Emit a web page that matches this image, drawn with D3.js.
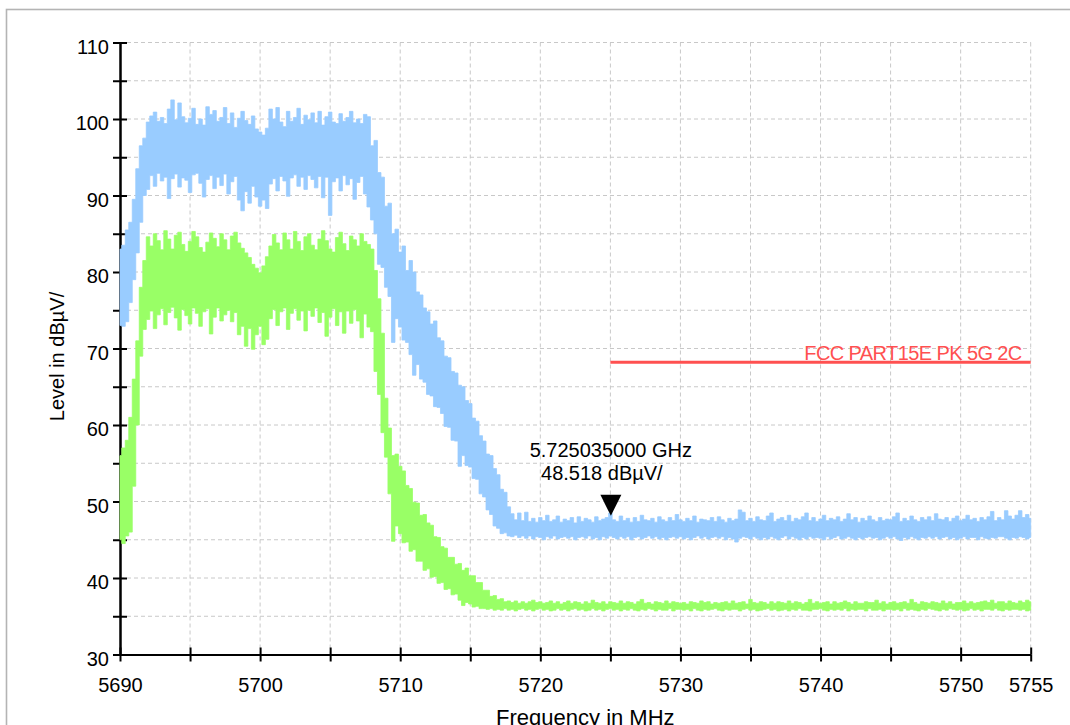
<!DOCTYPE html>
<html>
<head>
<meta charset="utf-8">
<script src="https://cdn.jsdelivr.net/npm/d3@7"></script>
<style>
  html, body { margin: 0; padding: 0; background: #fff; }
  svg { display: block; font-family: "Liberation Sans", Arial, sans-serif; }
</style>
</head>
<body>
<svg id="chart" width="1070" height="725"></svg>
<script>
// Sweep: 5690 MHz to 5755 MHz, one reading every 0.25 MHz.
const sweepStart = 5690;
const sweepStep = 0.25;

// Peak-hold trace (blue): upper and lower envelope of the sweep, dBµV
const blueHigh = [
  83, 83.5, 85.5, 86.5,        // 5690
  89.5, 93.5, 96.5, 97.5,      // 5691
  99.6, 100.4, 100.9, 99.7,    // 5692
  100.2, 99.4, 101.3, 102.5,   // 5693
  99.9, 102.1, 100.3, 99.5,    // 5694
  100.1, 101.4, 99.3, 100.0,   // 5695
  99.2, 101.6, 100.6, 101.1,   // 5696
  99.7, 100.2, 101.5, 99.4,    // 5697
  100.8, 98.9, 100.1, 101.0,   // 5698
  99.8, 99.3, 100.4, 98.7,     // 5699
  98.3, 97.9, 98.8, 101.3,     // 5700
  100.0, 101.5, 99.6, 99.0,    // 5701
  101.0, 99.7, 100.2, 101.4,   // 5702
  99.3, 100.5, 99.9, 100.8,    // 5703
  99.5, 101.0, 99.2, 100.3,    // 5704
  100.9, 99.6, 99.4, 100.7,    // 5705
  99.7, 100.2, 101.0, 99.5,    // 5706
  100.0, 99.4, 100.6, 100.3,   // 5707
  96.5, 97.2, 93.0, 92.4,      // 5708
  88.6, 89.0, 85.0, 85.6,      // 5709
  82.6, 83.4, 80.2, 81.5,      // 5710
  80.0, 77.4, 77.0, 75.3,      // 5711
  74.8, 73.2, 73.6, 71.4,      // 5712
  71.0, 69.0, 68.8, 67.0,      // 5713
  66.8, 65.2, 65.0, 63.2,      // 5714
  62.8, 60.9, 60.5, 58.6,      // 5715
  57.9, 56.2, 56.0, 54.3,      // 5716
  53.5, 51.6, 51.2, 49.3,      // 5717
  48.4, 47.6, 48.5, 47.5,      // 5718
  48.6, 47.4, 47.8, 47.3,      // 5719
  47.9, 47.5, 48.2, 47.4,      // 5720
  47.6, 48.1, 47.3, 47.7,      // 5721
  47.5, 47.9, 47.2, 48.0,      // 5722
  47.4, 47.8, 47.6, 47.3,      // 5723
  48.0, 47.5, 47.7, 47.9,      // 5724
  48.5, 47.6, 47.4, 48.1,      // 5725
  47.5, 47.8, 47.3, 47.9,      // 5726
  47.4, 48.2, 47.6, 47.5,      // 5727
  47.8, 47.3, 48.0, 47.6,      // 5728
  47.4, 47.9, 47.5, 48.3,      // 5729
  47.6, 47.4, 47.8, 47.5,      // 5730
  48.1, 47.3, 47.7, 47.6,      // 5731
  47.5, 47.9, 47.4, 48.0,      // 5732
  47.6, 47.3, 47.8, 47.5,      // 5733
  47.7, 48.9, 48.6, 47.5,      // 5734
  47.8, 47.4, 48.0, 47.6,      // 5735
  47.5, 48.1, 48.5, 47.4,      // 5736
  47.7, 47.9, 47.5, 48.2,      // 5737
  47.4, 47.8, 47.6, 48.0,      // 5738
  48.5, 47.5, 47.9, 47.4,      // 5739
  47.7, 48.2, 47.5, 47.8,      // 5740
  47.6, 48.0, 47.4, 47.7,      // 5741
  48.4, 47.6, 47.9, 47.3,      // 5742
  47.8, 47.5, 48.1, 47.6,      // 5743
  47.4, 47.9, 47.5, 47.7,      // 5744
  47.6, 48.0, 48.5, 47.4,      // 5745
  47.8, 47.5, 48.1, 47.6,      // 5746
  47.4, 47.9, 47.6, 48.0,      // 5747
  47.5, 48.4, 47.7, 47.6,      // 5748
  47.9, 47.4, 47.8, 48.1,      // 5749
  47.5, 47.7, 48.2, 47.6,      // 5750
  47.8, 47.4, 47.9, 47.6,      // 5751
  48.0, 48.7, 47.5, 47.9,      // 5752
  47.6, 48.8, 48.1, 47.7,      // 5753
  48.2, 48.8, 47.9, 48.3,      // 5754
  47.8                         // 5755
];
const blueLow = [
  73, 72.9, 73.5, 76,          // 5690
  79, 82.5, 86.5, 90,          // 5691
  90.8, 92.6, 91.2, 92.9,      // 5692
  91.9, 92.4, 89.6, 92.2,      // 5693
  92.8, 91.1, 92.3, 92.0,      // 5694
  90.4, 92.7, 92.9, 91.6,      // 5695
  89.8, 92.1, 92.6, 90.9,      // 5696
  92.4, 91.3, 92.8, 90.2,      // 5697
  91.8, 92.5, 89.4, 88.0,      // 5698
  90.5, 89.0, 91.2, 89.8,      // 5699
  88.6, 89.4, 88.3, 91.5,      // 5700
  92.2, 90.6, 92.5, 91.9,      // 5701
  89.9, 92.3, 92.7, 91.2,      // 5702
  92.4, 90.8, 92.6, 92.1,      // 5703
  91.0, 92.5, 89.7, 92.4,      // 5704
  87.4, 91.8, 92.3, 90.6,      // 5705
  92.6, 91.4, 92.2, 89.5,      // 5706
  91.7, 92.5, 90.2, 88.5,      // 5707
  86.8, 85.0, 81.0, 80.6,      // 5708
  78.0, 76.8, 70.8, 73.9,      // 5709
  72.8, 71.1, 70.8, 69.2,      // 5710
  66.5, 67.9, 66.0, 65.6,      // 5711
  64.0, 63.8, 62.4, 62.3,      // 5712
  61.5, 59.8, 59.7, 58.0,      // 5713
  57.9, 54.6, 56.0, 54.7,      // 5714
  54.5, 53.0, 52.9, 51.0,      // 5715
  50.6, 48.9, 48.3, 46.8,      // 5716
  46.5, 45.8, 45.9, 45.5,      // 5717
  45.4, 45.6, 45.3, 45.5,      // 5718
  45.2, 45.5, 45.1, 45.4,      // 5719
  45.3, 45.0, 45.4, 45.2,      // 5720
  45.5, 45.1, 45.3, 45.4,      // 5721
  45.2, 45.4, 45.0, 45.3,      // 5722
  45.4, 45.2, 45.5, 45.1,      // 5723
  45.3, 45.0, 45.4, 45.2,      // 5724
  45.5, 45.3, 45.1, 45.4,      // 5725
  45.2, 45.4, 45.0, 45.3,      // 5726
  45.4, 45.1, 45.3, 45.5,      // 5727
  45.2, 45.4, 45.1, 45.3,      // 5728
  45.0, 45.3, 45.4, 45.2,      // 5729
  45.4, 45.1, 45.3, 45.0,      // 5730
  45.3, 45.5, 45.2, 45.4,      // 5731
  45.1, 45.3, 45.4, 45.2,      // 5732
  45.4, 45.0, 45.3, 45.1,      // 5733
  44.7, 45.2, 45.4, 45.3,      // 5734
  45.1, 45.4, 45.2, 45.0,      // 5735
  45.3, 45.1, 45.4, 45.2,      // 5736
  45.0, 45.3, 45.5, 45.1,      // 5737
  45.4, 45.2, 45.0, 45.3,      // 5738
  45.1, 45.4, 45.2, 45.3,      // 5739
  45.2, 45.0, 45.4, 45.1,      // 5740
  45.3, 45.5, 45.1, 45.2,      // 5741
  45.4, 45.2, 45.0, 45.3,      // 5742
  45.1, 45.3, 45.4, 45.2,      // 5743
  45.3, 45.0, 45.2, 45.4,      // 5744
  45.2, 45.4, 45.1, 44.9,      // 5745
  45.3, 45.1, 45.4, 45.2,      // 5746
  45.0, 45.3, 45.2, 45.4,      // 5747
  45.2, 45.4, 45.1, 45.3,      // 5748
  45.4, 45.1, 45.3, 45.0,      // 5749
  45.2, 45.4, 45.1, 45.3,      // 5750
  45.3, 45.0, 45.4, 45.2,      // 5751
  45.1, 45.3, 45.2, 45.4,      // 5752
  45.4, 45.2, 45.0, 45.3,      // 5753
  45.2, 45.4, 45.3, 45.1,      // 5754
  45.3                         // 5755
];

// Average trace (green): upper and lower envelope of the sweep, dBµV
const greenHigh = [
  56, 57, 58, 61,              // 5690
  66, 71, 78, 81.5,            // 5691
  84.6, 83.4, 85.0, 84.1,      // 5692
  82.9, 85.4, 84.3, 83.0,      // 5693
  84.8, 85.2, 83.6, 82.7,      // 5694
  84.0, 85.3, 84.6, 83.2,      // 5695
  82.6, 83.9, 85.1, 84.4,      // 5696
  83.3, 85.0, 84.2, 82.9,      // 5697
  84.7, 85.2, 83.8, 83.1,      // 5698
  82.5, 81.9, 81.0, 80.5,      // 5699
  79.9, 80.8, 82.0, 83.4,      // 5700
  84.9, 83.8, 82.9, 85.1,      // 5701
  84.2, 83.0, 85.3, 84.0,      // 5702
  82.8, 84.6, 85.0, 83.5,      // 5703
  82.9, 84.3, 85.4, 84.1,      // 5704
  83.0, 82.6, 84.5, 85.2,      // 5705
  83.7, 82.8, 84.7, 84.2,      // 5706
  83.4, 85.0, 84.0, 83.6,      // 5707
  83.0, 80.2, 76.5, 72.0,      // 5708
  63.5, 59.6, 56.0, 56.2,      // 5709
  54.6, 54.0, 52.1, 51.7,      // 5710
  49.9, 49.8, 48.2, 48.3,      // 5711
  47.2, 46.9, 45.4, 45.3,      // 5712
  44.1, 43.9, 42.7, 42.7,      // 5713
  41.8, 41.9, 41.0, 41.3,      // 5714
  40.3, 40.3, 39.4, 39.4,      // 5715
  38.4, 38.4, 37.6, 37.7,      // 5716
  37.2, 37.3, 36.9, 37.0,      // 5717
  36.8, 37.0, 36.7, 36.9,      // 5718
  36.7, 36.9, 37.1, 36.8,      // 5719
  36.9, 36.7, 36.8, 37.0,      // 5720
  36.7, 36.9, 36.6, 36.8,      // 5721
  37.0, 36.7, 36.9, 36.8,      // 5722
  36.6, 36.9, 36.7, 37.1,      // 5723
  36.8, 36.7, 36.9, 36.6,      // 5724
  36.9, 36.8, 36.7, 37.0,      // 5725
  36.7, 36.9, 36.8, 36.6,      // 5726
  36.9, 37.2, 36.7, 36.8,      // 5727
  36.6, 36.9, 36.8, 36.7,      // 5728
  37.0, 36.7, 36.9, 36.8,      // 5729
  36.7, 36.8, 36.6, 36.9,      // 5730
  36.8, 36.7, 37.0, 36.8,      // 5731
  36.9, 36.6, 36.8, 36.7,      // 5732
  36.8, 36.9, 36.7, 37.0,      // 5733
  36.7, 36.8, 36.9, 36.6,      // 5734
  37.2, 36.8, 36.7, 36.9,      // 5735
  36.8, 36.6, 36.9, 36.7,      // 5736
  36.9, 36.8, 36.7, 37.0,      // 5737
  36.7, 36.9, 36.8, 36.6,      // 5738
  36.8, 37.2, 36.7, 36.9,      // 5739
  36.7, 36.8, 36.9, 36.6,      // 5740
  36.9, 36.7, 36.8, 37.0,      // 5741
  36.8, 36.6, 36.9, 36.7,      // 5742
  36.7, 36.9, 36.8, 36.8,      // 5743
  37.1, 36.7, 36.9, 36.6,      // 5744
  36.8, 36.9, 36.7, 36.8,      // 5745
  36.9, 36.7, 37.2, 36.8,      // 5746
  36.6, 36.9, 36.8, 36.7,      // 5747
  36.9, 36.8, 36.7, 37.0,      // 5748
  36.7, 36.9, 36.6, 36.8,      // 5749
  36.8, 37.0, 36.7, 36.9,      // 5750
  36.7, 36.8, 36.9, 37.0,      // 5751
  36.8, 37.1, 36.7, 36.9,      // 5752
  36.9, 36.7, 37.0, 36.8,      // 5753
  36.7, 37.0, 36.8, 37.1,      // 5754
  36.9                         // 5755
];
const greenLow = [
  45, 44.5, 45.5, 46,          // 5690
  52, 60, 69, 72.5,            // 5691
  73.8, 74.9, 72.6, 74.4,      // 5692
  75.2, 73.1, 74.7, 75.4,      // 5693
  74.0, 72.4, 75.1, 74.3,      // 5694
  73.2, 75.3, 74.6, 72.9,      // 5695
  74.8, 75.2, 71.9, 74.1,      // 5696
  75.3, 73.6, 74.4, 75.0,      // 5697
  73.5, 74.7, 71.8, 72.9,      // 5698
  70.3, 72.6, 69.9, 71.8,      // 5699
  72.9, 70.5, 71.2, 73.9,      // 5700
  75.1, 73.0, 74.8, 75.3,      // 5701
  72.5, 74.6, 75.2, 73.7,      // 5702
  74.9, 72.3, 75.0, 74.2,      // 5703
  75.3, 73.4, 74.7, 71.6,      // 5704
  74.1, 75.2, 73.0, 74.8,      // 5705
  72.0, 74.9, 73.3, 75.1,      // 5706
  73.6, 71.4, 74.5, 72.8,      // 5707
  72.2, 67.0, 64.0, 59.0,      // 5708
  55.8, 51.0, 44.8, 46.8,      // 5709
  45.8, 44.6, 44.7, 43.5,      // 5710
  43.7, 42.2, 42.2, 41.0,      // 5711
  41.2, 40.1, 40.2, 39.3,      // 5712
  39.4, 38.5, 38.6, 37.8,      // 5713
  37.9, 37.1, 36.4, 36.8,      // 5714
  36.6, 36.2, 36.3, 36.0,      // 5715
  36.0, 35.9, 36.0, 35.8,      // 5716
  35.9, 35.8, 36.0, 35.8,      // 5717
  35.9, 35.7, 35.9, 36.0,      // 5718
  35.8, 35.9, 35.7, 35.9,      // 5719
  36.0, 35.8, 35.9, 35.7,      // 5720
  35.8, 36.0, 35.8, 35.9,      // 5721
  35.7, 35.9, 36.0, 35.8,      // 5722
  35.9, 35.7, 35.8, 36.0,      // 5723
  35.8, 35.9, 35.7, 35.9,      // 5724
  36.0, 35.8, 35.9, 35.7,      // 5725
  35.9, 35.8, 36.0, 35.8,      // 5726
  35.7, 35.9, 35.8, 36.0,      // 5727
  35.9, 35.7, 35.9, 35.8,      // 5728
  35.8, 36.0, 35.7, 35.9,      // 5729
  35.9, 35.8, 35.9, 35.7,      // 5730
  36.0, 35.8, 35.7, 35.9,      // 5731
  35.8, 35.9, 36.0, 35.8,      // 5732
  35.7, 35.9, 35.8, 35.9,      // 5733
  35.9, 35.7, 35.9, 36.0,      // 5734
  35.8, 35.9, 35.7, 35.8,      // 5735
  35.9, 36.0, 35.8, 35.9,      // 5736
  35.7, 35.8, 35.9, 35.7,      // 5737
  35.9, 35.8, 36.0, 35.8,      // 5738
  35.8, 35.7, 35.9, 35.9,      // 5739
  36.0, 35.8, 35.7, 35.9,      // 5740
  35.8, 35.9, 35.8, 36.0,      // 5741
  35.7, 35.9, 35.8, 35.9,      // 5742
  35.9, 35.7, 36.0, 35.8,      // 5743
  35.8, 35.9, 35.7, 35.9,      // 5744
  35.9, 35.8, 35.9, 35.7,      // 5745
  36.0, 35.8, 35.9, 35.8,      // 5746
  35.7, 35.9, 35.8, 36.0,      // 5747
  35.9, 35.8, 35.7, 35.9,      // 5748
  35.8, 36.0, 35.9, 35.8,      // 5749
  35.9, 35.7, 35.8, 36.0,      // 5750
  35.8, 35.9, 35.7, 35.9,      // 5751
  35.9, 35.8, 36.0, 35.8,      // 5752
  35.7, 35.9, 35.8, 35.9,      // 5753
  35.9, 35.8, 35.9, 35.7,      // 5754
  35.8                         // 5755
];

// Axis ticks and labels
const xTicks = [5690, 5695, 5700, 5705, 5710, 5715, 5720, 5725, 5730, 5735, 5740, 5745, 5750, 5755];
const xLabels = [5690, 5700, 5710, 5720, 5730, 5740, 5750, 5755];
const yTicks = [30, 35, 40, 45, 50, 55, 60, 65, 70, 75, 80, 85, 90, 95, 100, 105, 110];
const yLabels = [30, 40, 50, 60, 70, 80, 90, 100, 110];

// Limit line
const limitName = "FCC PART15E PK 5G 2C";
const limitFreq = [5725, 5755];
const limitLevel = [68.2, 68.2];

// Marker
const markerFreq = 5725.035;
const markerLevel = 48.518;

// ---------------------------------------------------------------
const svg = d3.select("#chart");
const FONT = 20;

const x = d3.scaleLinear().domain([5690, 5755]).range([120, 1030.7]);
const y = d3.scaleLinear().domain([30, 110]).range([654.5, 42.5]);

// outer panel border
svg.append("rect")
  .attr("x", 6.5).attr("y", 9.5)
  .attr("width", 1200).attr("height", 900)
  .attr("fill", "#fff")
  .attr("stroke", "#b4b4b4").attr("stroke-width", 1.6);

// dashed grid
const grid = svg.append("g")
  .attr("stroke", "#c8c8c8").attr("stroke-width", 1)
  .attr("stroke-dasharray", "4,3");
grid.selectAll("line.v").data(xTicks.filter(d => d !== 5690)).join("line")
  .attr("class", "v")
  .attr("x1", d => x(d)).attr("x2", d => x(d))
  .attr("y1", y(110)).attr("y2", y(30));
grid.selectAll("line.h").data(yTicks.filter(d => d !== 30)).join("line")
  .attr("class", "h")
  .attr("x1", x(5690)).attr("x2", x(5755))
  .attr("y1", d => y(d)).attr("y2", d => y(d));

// axes: ticks cross the axis line, labels only on the major values
function styleAxis(g) {
  g.select(".domain").attr("stroke", "#000").attr("stroke-width", 2);
  g.selectAll(".tick line").attr("stroke", "#000").attr("stroke-width", 2);
  g.selectAll("text").attr("fill", "#000").attr("font-size", FONT)
    .attr("font-family", '"Liberation Sans", Arial, sans-serif');
}
const yAxisL = d3.axisLeft(y).tickValues(yTicks).tickSizeInner(7).tickSizeOuter(0).tickPadding(4)
  .tickFormat(d => yLabels.includes(d) ? String(d) : "");
const yAxisR = d3.axisRight(y).tickValues(yTicks).tickSizeInner(7).tickSizeOuter(0)
  .tickFormat("");
const xAxisB = d3.axisBottom(x).tickValues(xTicks).tickSizeInner(7).tickSizeOuter(0).tickPadding(16)
  .tickFormat(d => xLabels.includes(d) ? String(d) : "");
const xAxisT = d3.axisTop(x).tickValues(xTicks).tickSizeInner(7).tickSizeOuter(0)
  .tickFormat("");

const gy = svg.append("g").attr("transform", `translate(${x(5690)},0)`).call(yAxisL).call(styleAxis);
gy.selectAll("text").attr("dy", "0.32em").attr("y", 4.5);
svg.append("g").attr("transform", `translate(${x(5690)},0)`).call(yAxisR).call(styleAxis);
svg.append("g").attr("transform", `translate(0,${y(30)})`).call(xAxisB).call(styleAxis);
svg.append("g").attr("transform", `translate(0,${y(30)})`).call(xAxisT).call(styleAxis);

// traces: each reading drawn as a vertical span between its envelope values
function band(high, low) {
  const n = Math.min(high.length, low.length);
  return d3.range(n).map(i => ({ f: sweepStart + i * sweepStep, hi: high[i], lo: low[i] }));
}
const area = d3.area()
  .curve(d3.curveStep)
  .x(d => x(d.f))
  .y0(d => y(d.lo))
  .y1(d => y(d.hi));

svg.append("path")
  .datum(band(blueHigh, blueLow))
  .attr("d", area)
  .attr("fill", "#99ccff").attr("stroke", "#99ccff").attr("stroke-width", 0.8);

svg.append("path")
  .datum(band(greenHigh, greenLow))
  .attr("d", area)
  .attr("fill", "#99ff66").attr("stroke", "#99ff66").attr("stroke-width", 0.8);

// limit line and its name
const limitLine = d3.line().x(d => x(d[0])).y(d => y(d[1]));
svg.append("path")
  .datum(limitFreq.map((f, i) => [f, limitLevel[i]]))
  .attr("d", limitLine)
  .attr("fill", "none").attr("stroke", "#ff5050").attr("stroke-width", 3);
svg.append("text")
  .attr("x", x(limitFreq[1]) - 9)
  .attr("y", y(limitLevel[1]) - 2)
  .attr("text-anchor", "end")
  .attr("font-size", FONT)
  .attr("letter-spacing", -0.6)
  .attr("fill", "#ff5050")
  .text(limitName);

// marker triangle with readout
const mx = x(markerFreq), my = y(markerLevel) + 3;
svg.append("path")
  .attr("d", `M${mx},${my} L${mx - 10.5},${my - 21} L${mx + 10.5},${my - 21} Z`)
  .attr("fill", "#000");
svg.append("text")
  .attr("x", mx).attr("y", my - 59)
  .attr("text-anchor", "middle").attr("font-size", FONT).attr("fill", "#000")
  .text((markerFreq / 1000).toFixed(9) + " GHz");
svg.append("text")
  .attr("x", mx - 9).attr("y", my - 36)
  .attr("text-anchor", "middle").attr("font-size", FONT).attr("fill", "#000")
  .text(markerLevel.toFixed(3) + " dBµV/");

// axis titles
svg.append("text")
  .attr("transform", `translate(64,${(y(30) + y(110)) / 2 + 8}) rotate(-90)`)
  .attr("text-anchor", "middle").attr("font-size", FONT).attr("fill", "#000")
  .text("Level in dBµV/");
svg.append("text")
  .attr("x", (x(5690) + x(5755)) / 2 + 10).attr("y", 725)
  .attr("text-anchor", "middle").attr("font-size", 22).attr("fill", "#000")
  .text("Frequency in MHz");
</script>
</body>
</html>
